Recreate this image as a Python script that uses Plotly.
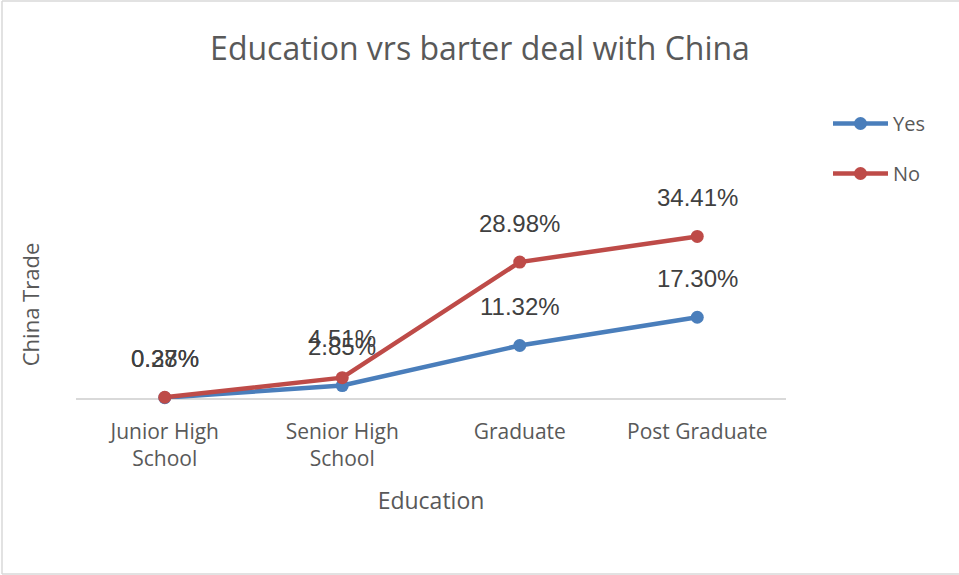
import plotly.graph_objects as go

categories = ["Junior High School", "Senior High School", "Graduate", "Post Graduate"]
tick_labels = ["Junior High<br>School", "Senior High<br>School", "Graduate", "Post Graduate"]
yes_values = [0.0028, 0.0285, 0.1132, 0.1730]
no_values = [0.0037, 0.0451, 0.2898, 0.3441]

BLUE = "#4A7EBB"
RED = "#BE4B48"
GREY = "#595959"
FONT = "Open Sans"

W, H = 959, 575
L, R, T, B = 76, W - 786, 210, H - 399
pw, ph = W - L - R, H - T - B

fig = go.Figure()
for i, (name, vals, col) in enumerate([("Yes", yes_values, BLUE), ("No", no_values, RED)]):
    fig.add_trace(go.Scatter(
        x=categories, y=vals, name=name, mode="lines+markers",
        legendgroup=f"g{i}",
        line=dict(color=col, width=4.5),
        marker=dict(color=col, size=13),
        cliponaxis=False,
    ))
for name, vals in [("No", no_values), ("Yes", yes_values)]:
    for c, v in zip(categories, vals):
        fig.add_annotation(x=c, y=v, text=f"{v*100:.2f}%", showarrow=False,
                           yshift=39, font=dict(family="Liberation Sans", size=24, color="#404040"))

fig.update_layout(
    width=W, height=H,
    margin=dict(l=L, r=R, t=T, b=B),
    paper_bgcolor="white", plot_bgcolor="white",
    title=dict(text="Education vrs barter deal with China", x=480 / W, xanchor="center",
               y=1 - 49 / H, yanchor="middle",
               font=dict(family=FONT, size=32, color=GREY)),
    legend=dict(x=(828 - L) / pw, y=(399 - 104) / ph, xanchor="left", yanchor="top",
                font=dict(family=FONT, size=20, color=GREY), tracegroupgap=21,
                itemwidth=55, bgcolor="rgba(0,0,0,0)"),
    xaxis=dict(type="category", range=[-0.5, 3.5], tickvals=categories, ticktext=tick_labels,
               showgrid=False, showline=False, zeroline=False, ticks="",
               ticklabelstandoff=18,
               tickfont=dict(family=FONT, size=21, color=GREY),
               title=dict(text="Education", font=dict(family=FONT, size=23, color=GREY), standoff=21)),
    yaxis=dict(range=[0, 0.4], showticklabels=False, showgrid=False, zeroline=True,
               zerolinecolor="#D9D9D9", zerolinewidth=1.5, showline=False,
               title=dict(text="China Trade", font=dict(family=FONT, size=22, color=GREY), standoff=29)),
    showlegend=True,
)

def px_x(p):
    return (p - L) / pw

def px_y(p):
    return (H - B - p) / ph

border = dict(color="#D9D9D9", width=1.5)
fig.add_shape(type="line", xref="paper", yref="paper", x0=px_x(2), x1=px_x(959), y0=px_y(1), y1=px_y(1), line=border)
fig.add_shape(type="line", xref="paper", yref="paper", x0=px_x(2), x1=px_x(2), y0=px_y(1), y1=px_y(574), line=border)
fig.add_shape(type="line", xref="paper", yref="paper", x0=px_x(2), x1=px_x(959), y0=px_y(574), y1=px_y(574), line=border)

fig.write_html("out.html", config={"displayModeBar": False},
               post_script="document.body.style.margin='0';document.body.style.padding='0';")
